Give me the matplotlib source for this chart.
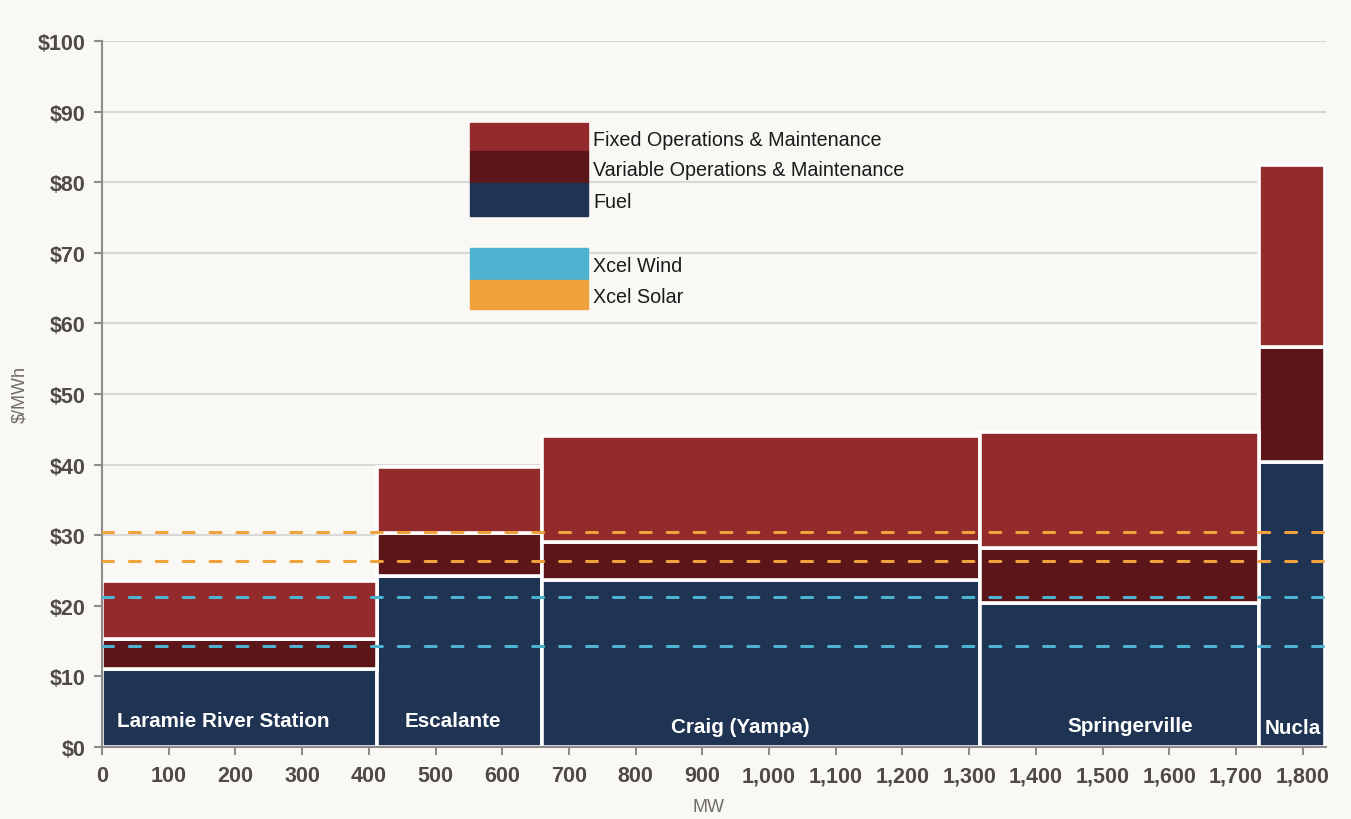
import matplotlib
matplotlib.use("Agg")
import matplotlib.pyplot as plt
from matplotlib.patches import Rectangle

# ---- data ----
plants = ["Laramie River Station", "Escalante", "Craig (Yampa)", "Springerville", "Nucla"]
capacity_mw = [413, 247, 657, 418, 99]
fuel = [11.1, 24.2, 23.65, 20.4, 40.3]
variable_om = [4.2, 6.15, 5.35, 7.8, 16.4]
fixed_om = [8.2, 9.35, 15.1, 16.35, 25.8]
wind_prices = [14.3, 21.3]
solar_prices = [26.4, 30.4]
y_ticks = [0, 10, 20, 30, 40, 50, 60, 70, 80, 90, 100]
x_ticks = list(range(0, 1801, 100))

# ---- style ----
BG = "#F9F8F4"
C_FIXED = "#932A2B"
C_VAR = "#5C161A"
C_FUEL = "#1F3352"
C_WIND = "#4DB3D0"
C_SOLAR = "#F0A33C"
TXT = "#4D4A47"
plt.rcParams['font.family'] = ['Liberation Sans', 'DejaVu Sans']

fig = plt.figure(figsize=(13.51, 8.20), dpi=100, facecolor=BG)
ax = fig.add_axes([102/1351, 72/820, 1224/1351, 706/820])
ax.set_facecolor(BG)

lefts = []
acc = 0
for w in capacity_mw:
    lefts.append(acc)
    acc += w

bottoms2 = [f + v for f, v in zip(fuel, variable_om)]
kw = dict(align='edge', edgecolor='white', linewidth=2.6, zorder=2)
ax.bar(lefts, fuel, width=capacity_mw, color=C_FUEL, **kw)
ax.bar(lefts, variable_om, width=capacity_mw, bottom=fuel, color=C_VAR, **kw)
ax.bar(lefts, fixed_om, width=capacity_mw, bottom=bottoms2, color=C_FIXED, **kw)

xmax = 1835
for p in wind_prices:
    ax.plot([0, xmax], [p, p], color=C_WIND, lw=2.2, ls=(0, (3.6, 5.2)), zorder=3,
            dash_capstyle='round')
for p in solar_prices:
    ax.plot([0, xmax], [p, p], color=C_SOLAR, lw=2.2, ls=(0, (3.6, 5.2)), zorder=3,
            dash_capstyle='round')

label_dx = [-25, -10, -32, 15, 0]
label_y = [3.7, 3.8, 2.9, 3.1, 2.7]
for name, l, w, dx, ly in zip(plants, lefts, capacity_mw, label_dx, label_y):
    ax.text(l + w / 2 + dx, ly, name, color='white', fontsize=14.9, fontweight='bold',
            ha='center', va='center', zorder=4)

ax.set_xlim(0, xmax)
ax.set_ylim(0, 100)
ax.set_yticks(y_ticks)
ax.set_yticklabels([f"${v}" for v in y_ticks])
ax.set_xticks(x_ticks)
ax.set_xticklabels([f"{v:,}" for v in x_ticks])
ax.grid(axis='y', color='#D9D8D6', lw=1.5, zorder=0)
ax.set_axisbelow(True)
for s in ['top', 'right']:
    ax.spines[s].set_visible(False)
for s in ['left', 'bottom']:
    ax.spines[s].set_color('#8E8C8A')
    ax.spines[s].set_linewidth(1.5)
ax.tick_params(axis='both', colors='#8E8C8A', length=6, width=1.5,
               labelcolor=TXT, labelsize=15.5)
for t in ax.get_xticklabels() + ax.get_yticklabels():
    t.set_fontweight('bold')
ax.tick_params(axis='x', pad=7)
ax.tick_params(axis='y', pad=6)

fig.text(20/1351, 1 - 395/820, "$/MWh", rotation=90, ha='center', va='center',
         color='#6E6B68', fontsize=13)
fig.text(708/1351, 1 - 808/820, "MW", ha='center', va='center',
         color='#6E6B68', fontsize=13)

# ---- legend ----
leg = [("Fixed Operations & Maintenance", C_FIXED, 124, 152),
       ("Variable Operations & Maintenance", C_VAR, 152, 184),
       ("Fuel", C_FUEL, 184, 217),
       ("Xcel Wind", C_WIND, 249, 281),
       ("Xcel Solar", C_SOLAR, 281, 310)]
for lab, c, y0, y1 in leg:
    fig.patches.append(Rectangle((470/1351, 1 - y1/820), 118/1351, (y1 - y0)/820,
                                 transform=fig.transFigure, color=c, zorder=5))
    fig.text(593/1351, 1 - ((y0 + y1) / 2 + 2)/820, lab, ha='left', va='center',
             color='#1A1A1A', fontsize=14.2)

fig.savefig("out.png", dpi=100, facecolor=BG)
